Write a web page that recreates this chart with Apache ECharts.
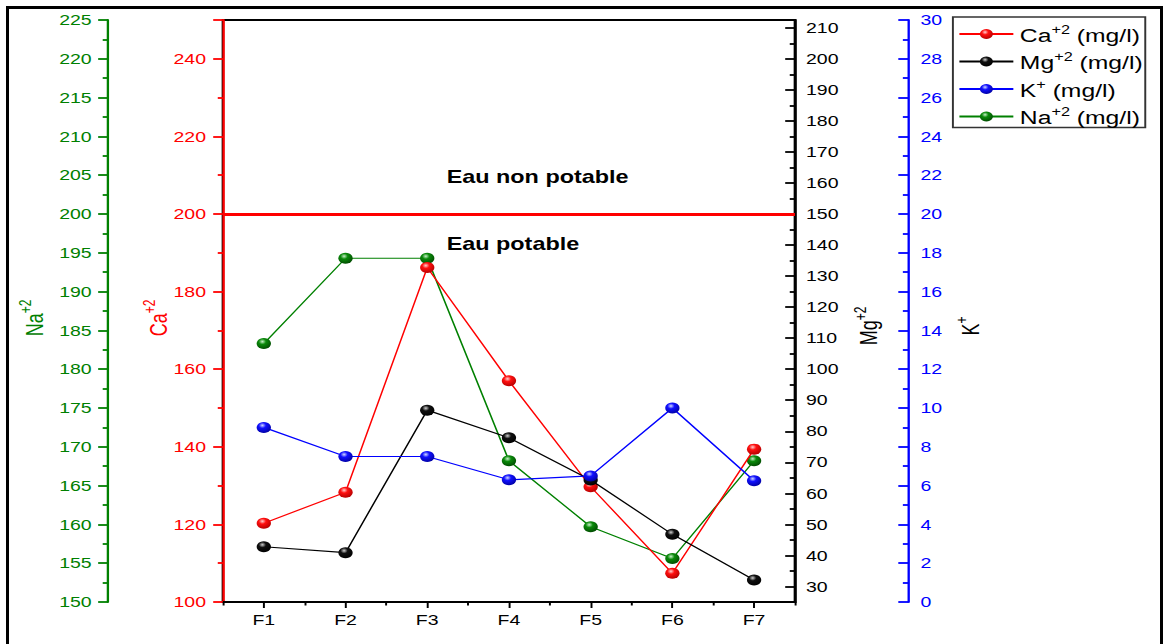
<!DOCTYPE html>
<html>
<head>
<meta charset="utf-8">
<script src="https://cdn.jsdelivr.net/npm/echarts@6/dist/echarts.min.js"></script>
<style>
  html, body { margin: 0; padding: 0; background: #fff; overflow: hidden; }
  #frame { position: absolute; left: 6px; top: 6px; width: 1151px; height: 700px; border: 3px solid #000; }
  /* the plot is laid out narrow and widened horizontally */
  #chart { position: absolute; left: 0; top: 0; width: 896px; height: 644px; transform: scaleX(1.3); transform-origin: 0 0; }
</style>
</head>
<body>
<div id="frame"></div>
<div id="chart"></div>
<script>
// Sampling points
const categories = ['F1', 'F2', 'F3', 'F4', 'F5', 'F6', 'F7'];

// Concentrations (mg/l)
const ca = [120.3, 128.3, 186.2, 157.0, 129.7, 107.4, 139.4];
const mg = [42.8, 40.9, 86.8, 77.9, 64.3, 46.8, 32.1];
const k  = [9.0, 7.5, 7.5, 6.3, 6.5, 10.0, 6.25];
const na = [183.3, 194.3, 194.3, 168.2, 159.7, 155.6, 168.2];

// Potability limit on the calcium scale
const caLimit = 200;

// Magnesium axis ticks
const mgTicks = [30, 40, 50, 60, 70, 80, 90, 100, 110, 120, 130, 140, 150, 160, 170, 180, 190, 200, 210];
const mgMinorTicks = [35, 45, 55, 65, 75, 85, 95, 105, 115, 125, 135, 145, 155, 165, 175, 185, 195, 205];

// Legend / axis title pieces
const ions = ['Ca', 'Mg', 'K', 'Na'];
const charges = ['+2', '+2', '+', '+2'];
const unit = '(mg/l)';
const seriesNames = ions.map((ion, i) => ion + charges[i] + ' ' + unit);

const FONT = 'Liberation Sans, Arial, Helvetica, sans-serif';
const RED = '#ff0000', BLACK = '#000000', BLUE = '#0000ff', GREEN = '#008000';

function sphere(base, dark, light) {
  return {
    type: 'radial', x: 0.4, y: 0.32, r: 0.72,
    colorStops: [
      { offset: 0, color: light },
      { offset: 0.35, color: base },
      { offset: 1, color: dark }
    ]
  };
}

function valueAxis(opts) {
  const c = opts.color;
  return Object.assign({
    type: 'value',
    splitLine: { show: false },
    axisLine: { show: true, onZero: false, lineStyle: { color: c, width: 1.8 } },
    axisTick: { show: true, inside: !!opts.tickInside, length: 7.5, lineStyle: { color: c, width: 1.8 } },
    minorTick: { show: true, splitNumber: 2, length: 4, lineStyle: { color: c, width: 1.8 } },
    axisLabel: { color: c, fontSize: 15, fontFamily: FONT, margin: opts.margin }
  }, opts.extra);
}

const chart = echarts.init(document.getElementById('chart'), null, { renderer: 'svg' });

const richTitle = (color) => ({
  b: { fontSize: 18, fontFamily: FONT, fill: color, lineHeight: 22, verticalAlign: 'bottom' },
  s: { fontSize: 12, fontFamily: FONT, fill: color, lineHeight: 22, verticalAlign: 'top' }
});

function axisTitle(idx, x, y, color) {
  return {
    type: 'text', x: x, y: y, rotation: Math.PI / 2, z: 100,
    style: {
      text: '{b|' + ions[idx] + '}{s|' + charges[idx] + '}',
      rich: richTitle(color),
      fill: color, fontSize: 18, fontFamily: FONT,
      align: 'center', verticalAlign: 'middle',
      textAlign: 'center', textVerticalAlign: 'middle'
    }
  };
}

function zoneLabel(text, x, y) {
  return {
    type: 'text', x: x, y: y, z: 100,
    style: {
      text: text, fill: '#000', fontSize: 18, fontWeight: 'bold', fontFamily: FONT,
      align: 'left', verticalAlign: 'middle', textAlign: 'left', textVerticalAlign: 'middle'
    }
  };
}

const option = {
  animation: false,
  grid: {
    left: 171.5, top: 20, width: 440, height: 582,
    show: true, borderColor: '#000', borderWidth: 2, backgroundColor: 'transparent',
    outerBoundsMode: 'none'
  },
  legend: {
    orient: 'vertical', left: 733, top: 17,
    data: seriesNames,
    selectedMode: false,
    itemWidth: 41.5, itemHeight: 12.5, itemGap: 5.5,
    padding: [6, 2, 0, 4],
    borderColor: '#333', borderWidth: 1.5,
    formatter: function (name) {
      const i = seriesNames.indexOf(name);
      return '{t|' + ions[i] + '}{s|' + charges[i] + '}{t| ' + unit + '}';
    },
    textStyle: {
      color: '#000', fontSize: 19, fontFamily: FONT, lineHeight: 22,
      rich: {
        t: { fontSize: 19, fontFamily: FONT, color: '#000', lineHeight: 22, verticalAlign: 'bottom' },
        s: { fontSize: 12.5, fontFamily: FONT, color: '#000', lineHeight: 22, verticalAlign: 'top' }
      }
    }
  },
  xAxis: [
    {
      type: 'category', data: categories, boundaryGap: true, position: 'bottom',
      axisLine: { show: true, onZero: false, lineStyle: { color: '#000', width: 2 } },
      axisTick: { show: true, alignWithLabel: true, length: 6, lineStyle: { color: '#000', width: 1.5 } },
      axisLabel: { color: '#000', fontSize: 15, fontFamily: FONT, margin: 10 },
      splitLine: { show: false }
    },
    {
      type: 'category', data: categories, boundaryGap: true, position: 'bottom',
      axisLine: { show: false },
      axisTick: { show: true, length: 3.5, lineStyle: { color: '#000', width: 1.5 } },
      axisLabel: { show: false },
      splitLine: { show: false }
    }
  ],
  yAxis: [
    // 0: Ca
    valueAxis({ color: RED, margin: 13, extra: {
      position: 'left', offset: 0, min: 100, max: 250, interval: 20,
      axisLabel: { color: RED, fontSize: 15, fontFamily: FONT, margin: 13, showMaxLabel: false }
    } }),
    // 1: Na
    valueAxis({ color: GREEN, margin: 12.5, extra: {
      position: 'left', offset: 88.5, min: 150, max: 225, interval: 5
    } }),
    // 2: Mg
    {
      type: 'value', position: 'right', offset: 0, min: 25, max: 212.5,
      splitLine: { show: false },
      axisLine: { show: true, onZero: false, lineStyle: { color: BLACK, width: 1.8 } },
      axisTick: { show: true, inside: true, length: 7.5, customValues: mgTicks, lineStyle: { color: BLACK, width: 1.8 } },
      axisLabel: { color: BLACK, fontSize: 15, fontFamily: FONT, margin: 8.5, customValues: mgTicks }
    },
    // 3: Mg minor ticks
    {
      type: 'value', position: 'right', offset: 0, min: 25, max: 212.5,
      splitLine: { show: false },
      axisLine: { show: false },
      axisTick: { show: true, inside: true, length: 4, customValues: mgMinorTicks, lineStyle: { color: BLACK, width: 1.8 } },
      axisLabel: { show: false, customValues: mgMinorTicks }
    },
    // 4: K
    valueAxis({ color: BLUE, margin: 9.5, tickInside: true, extra: {
      position: 'right', offset: 87, min: 0, max: 30, interval: 2
    } })
  ],
  graphic: [
    axisTitle(3, 24.6, 318, GREEN),
    axisTitle(0, 120, 318, RED),
    axisTitle(1, 666.5, 326, BLACK),
    axisTitle(2, 744.5, 326, BLACK),
    zoneLabel('Eau non potable', 343.6, 177),
    zoneLabel('Eau potable', 343.6, 244)
  ],
  series: [
    {
      name: seriesNames[3], type: 'line', data: na, xAxisIndex: 0, yAxisIndex: 1,
      symbol: 'circle', symbolSize: 11, z: 2,
      lineStyle: { color: GREEN, width: 1.2 },
      itemStyle: { color: sphere('#0a8a0a', '#004800', '#c8f0c8') }
    },
    {
      name: seriesNames[0], type: 'line', data: ca, xAxisIndex: 0, yAxisIndex: 0,
      symbol: 'circle', symbolSize: 11, z: 3,
      lineStyle: { color: RED, width: 1.2 },
      itemStyle: { color: sphere('#ff1010', '#b00000', '#ffd0d0') },
      markLine: {
        silent: true, symbol: ['none', 'none'], animation: false,
        label: { show: false },
        lineStyle: { color: RED, width: 3, type: 'solid' },
        emphasis: { disabled: true },
        data: [{ yAxis: caLimit }]
      }
    },
    {
      name: seriesNames[1], type: 'line', data: mg, xAxisIndex: 0, yAxisIndex: 2,
      symbol: 'circle', symbolSize: 11, z: 4,
      lineStyle: { color: BLACK, width: 1.2 },
      itemStyle: { color: sphere('#101010', '#000000', '#d0d0d0') }
    },
    {
      name: seriesNames[2], type: 'line', data: k, xAxisIndex: 0, yAxisIndex: 4,
      symbol: 'circle', symbolSize: 11, z: 5,
      lineStyle: { color: BLUE, width: 1.2 },
      itemStyle: { color: sphere('#1010ff', '#0000a0', '#d0d8ff') }
    }
  ]
};

chart.setOption(option);
</script>
</body>
</html>
